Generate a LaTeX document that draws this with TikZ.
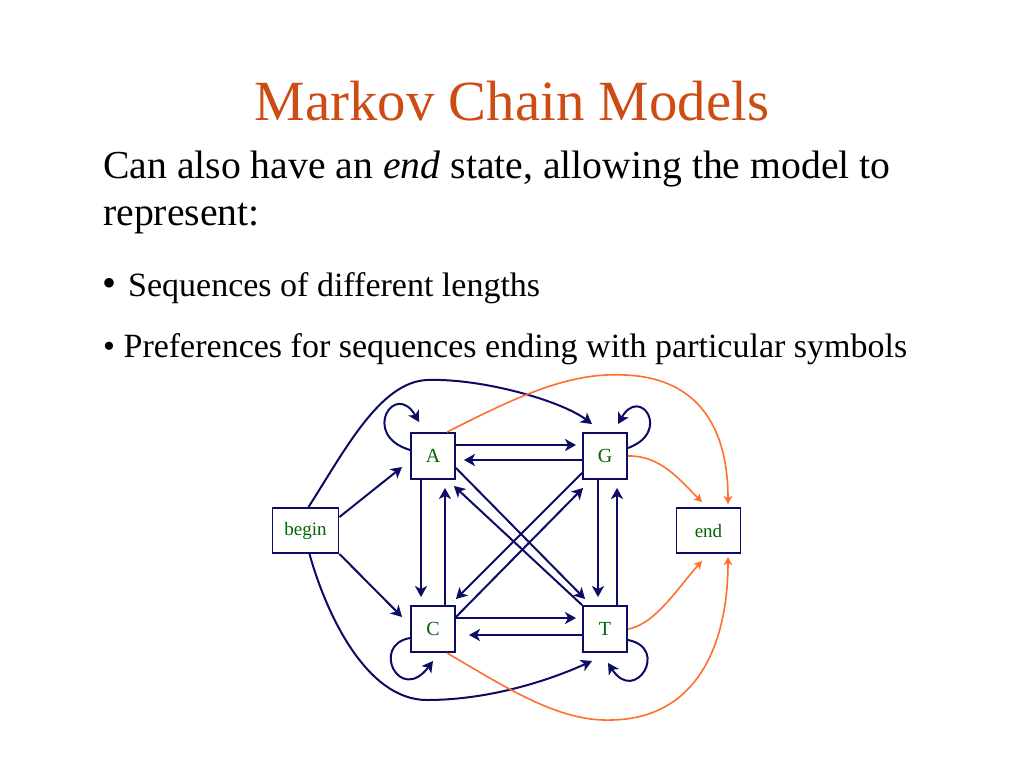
\documentclass[tikz,border=0pt]{standalone}
\usepackage{fontspec}
\setmainfont{Liberation Serif}
\usetikzlibrary{arrows.meta}
\definecolor{navy}{RGB}{12,12,100}
\definecolor{titlered}{RGB}{204,76,20}
\definecolor{orng}{RGB}{255,112,45}
\definecolor{lbl}{RGB}{0,100,0}
\begin{document}
\begin{tikzpicture}[x=1pt,y=-1pt,
  txt/.style={anchor=base west, inner sep=0pt, text=black},
  state/.style={draw=navy, line width=1.9pt, fill=white, minimum width=44pt, minimum height=46pt, inner sep=0pt, font=\fontsize{20}{22}\selectfont, text=lbl},
  widestate/.style={state, minimum width=66pt, minimum height=45pt, font=\fontsize{19}{21}\selectfont},
  nv/.style={draw=navy, line width=2pt, -{Stealth[length=11pt,width=12pt,inset=3pt]}},
  og/.style={draw=orng, line width=1.6pt, -{Stealth[length=8pt,width=8.5pt,inset=2pt]}}]
\fill[white] (0,0) rectangle (1024,768);
\useasboundingbox (0,0) rectangle (1024,768);

\node[anchor=base, inner sep=0pt, text=titlered, font=\fontsize{56.8}{60}\selectfont] (title) at (512,120) {Markov Chain Models};
\node[txt, font=\fontsize{39.7}{46}\selectfont] (l1) at (103,178) {Can also have an \textit{end} state, allowing the model to};
\node[txt, font=\fontsize{39.7}{46}\selectfont] (l2) at (103,225) {represent:};
\node[txt, font=\fontsize{40}{46}\selectfont] (b1) at (102,296) {•};
\node[txt, font=\fontsize{34}{40}\selectfont] (l3) at (128,296) {Sequences of different lengths};
\node[txt, font=\fontsize{34}{40}\selectfont] (l4) at (103,357) {• Preferences for sequences ending with particular symbols};

\node[widestate] (begin) at (305.5,530.5) {begin};
\node[state] (A) at (433,456) {A};
\node[state] (G) at (605,456) {G};
\node[state] (C) at (433,629) {C};
\node[state] (T) at (605,629) {T};
\node[widestate, minimum width=64pt] (endn) at (708.5,530.5) {end};

% horizontal
\draw[nv] ([yshift=11pt]A.east) -- ([xshift=-6pt,yshift=11pt]G.west);
\draw[nv] ([yshift=-4pt]G.west) -- ([xshift=8pt,yshift=-4pt]A.east);
\draw[nv] ([yshift=11pt]C.east) -- ([xshift=-6pt,yshift=11pt]T.west);
\draw[nv] ([yshift=-6pt]T.west) -- ([xshift=13pt,yshift=-6pt]C.east);
% vertical
\draw[nv] ([xshift=-12pt]A.south) -- ([xshift=-12pt,yshift=8pt]C.north);
\draw[nv] ([xshift=12pt]C.north) -- ([xshift=12pt,yshift=-8pt]A.south);
\draw[nv] ([xshift=-7pt]G.south) -- ([xshift=-7pt,yshift=8pt]T.north);
\draw[nv] ([xshift=12pt]T.north) -- ([xshift=12pt,yshift=-8pt]G.south);
% diagonals
\draw[nv] ([yshift=-12pt]A.east) -- ([xshift=3pt,yshift=6pt]T.north west);
\draw[nv] (T.north west) -- ([xshift=-2pt,yshift=-6pt]A.south east);
\draw[nv] ([yshift=-17pt]G.west) -- ([yshift=6pt]C.north east);
\draw[nv] ([yshift=12pt]C.east) -- ([xshift=1pt,yshift=-8pt]G.south west);
% from begin
\draw[nv] ([yshift=13.5pt]begin.east) -- ([xshift=-8pt,yshift=-11pt]A.west);
\draw[nv] (begin.south east) -- ([xshift=-8pt,yshift=12pt]C.west);
\draw[nv] ([xshift=3pt]begin.north) .. controls (345,450) and (380,382) .. (427,380)
  .. controls (480,378) and (560,400) .. ([xshift=10pt,yshift=8pt]G.north west);
\draw[nv] ([xshift=4pt]begin.south) .. controls (325,610) and (365,700) .. (427,700)
  .. controls (490,700) and (550,680) .. ([xshift=10pt,yshift=-8pt]T.south west);
% self loops
\draw[nv] ([yshift=6pt]A.west) .. controls (360,435) and (395,380) .. ([xshift=9pt,yshift=10pt]A.north west);
\draw[nv] ([yshift=8pt]G.east) .. controls (672,432) and (640,385) .. ([xshift=13pt,yshift=8pt]G.north);
\draw[nv] ([yshift=-9pt]C.west) .. controls (370,645) and (400,705) .. ([yshift=-8pt]C.south);
\draw[nv] ([yshift=-11pt]T.east) .. controls (670,648) and (635,705) .. ([xshift=3pt,yshift=-10pt]T.south);
% to end
\draw[og] ([xshift=14pt]A.north) .. controls (520,395) and (570,372) .. (625,375)
  .. controls (700,378) and (728,430) .. ([xshift=19.5pt,yshift=3pt]endn.north);
\draw[og] (G.east) .. controls (660,455) and (680,480) .. ([xshift=-6.5pt,yshift=5pt]endn.north);
\draw[og] (T.east) .. controls (655,625) and (680,585) .. ([xshift=-6.5pt,yshift=-7pt]endn.south);
\draw[og] ([xshift=14pt]C.south) .. controls (510,690) and (560,722) .. (612,720)
  .. controls (700,718) and (728,640) .. ([xshift=19.5pt,yshift=-3pt]endn.south);
\end{tikzpicture}
\end{document}
